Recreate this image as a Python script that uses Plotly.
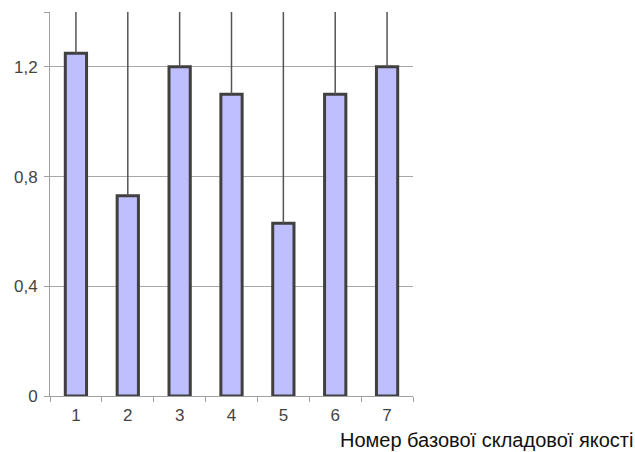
import plotly.graph_objects as go

# Component numbers and their values
categories = [1, 2, 3, 4, 5, 6, 7]
values = [1.25, 0.73, 1.2, 1.1, 0.63, 1.1, 1.2]
y_top = 1.4
y_tickvals = [0, 0.4, 0.8, 1.2]
y_ticktext = ["0", "0,4", "0,8", "1,2"]
x_title = "Номер базової складової якості"

# upper whiskers run from each bar top to the top of the value axis
upper = [y_top - v for v in values]

fig = go.Figure(
    go.Bar(
        x=categories,
        y=values,
        width=0.41,
        marker=dict(color="#BFBFFF", line=dict(color="#404040", width=3)),
        error_y=dict(
            type="data",
            symmetric=False,
            array=upper,
            arrayminus=[0] * len(values),
            color="#555555",
            thickness=1.5,
            width=0,
        ),
    )
)

fig.update_layout(
    width=635,
    height=452,
    margin=dict(l=50, r=222, t=12, b=56),
    paper_bgcolor="white",
    plot_bgcolor="white",
    showlegend=False,
    font=dict(family="Liberation Sans, Arial, sans-serif", size=17, color="#444444"),
    xaxis=dict(
        range=[0.5, 7.5],
        tickmode="array",
        tickvals=categories,
        ticktext=[str(c) for c in categories],
        ticks="",
        showgrid=False,
        showline=True,
        linecolor="#a0a0a0",
        linewidth=1,
        zeroline=False,
        ticklabelstandoff=4,
        minor=dict(tickmode="linear", tick0=0.5, dtick=1, ticks="outside",
                   ticklen=5, tickcolor="#a0a0a0", showgrid=False),
    ),
    yaxis=dict(
        range=[0, y_top],
        tickmode="array",
        tickvals=y_tickvals,
        ticktext=y_ticktext,
        ticks="outside",
        ticklen=5,
        tickcolor="#a0a0a0",
        showgrid=True,
        gridcolor="#a8a8a8",
        gridwidth=1,
        showline=True,
        linecolor="#a0a0a0",
        linewidth=1,
        zeroline=False,
        ticklabelstandoff=3,
        minor=dict(tickmode="array", tickvals=[y_top], ticks="outside",
                   ticklen=5, tickcolor="#a0a0a0", showgrid=False),
    ),
    annotations=[
        dict(
            text=x_title,
            xref="paper",
            yref="paper",
            x=1.609,
            y=-0.1458,
            xanchor="right",
            yanchor="bottom",
            showarrow=False,
            borderpad=0,
            font=dict(family="Liberation Sans, Arial, sans-serif", size=20, color="#111111"),
        )
    ],
)

fig.write_html("out.html")
